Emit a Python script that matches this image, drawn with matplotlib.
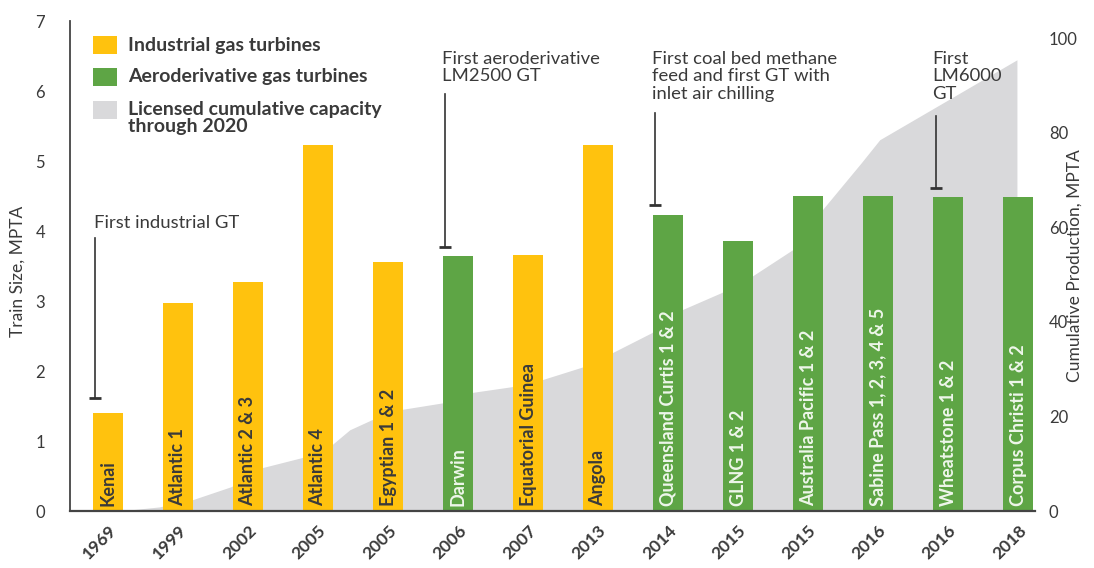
import matplotlib
matplotlib.use("Agg")
import matplotlib.pyplot as plt
from matplotlib.patches import Rectangle

plt.rcParams["font.family"] = ["Lato", "DejaVu Sans"]

# data
years = ["1969", "1999", "2002", "2005", "2005", "2006", "2007", "2013",
         "2014", "2015", "2015", "2016", "2016", "2018"]
projects = ["Kenai", "Atlantic 1", "Atlantic 2 & 3", "Atlantic 4", "Egyptian 1 & 2",
            "Darwin", "Equatorial Guinea", "Angola", "Queensland Curtis 1 & 2",
            "GLNG 1 & 2", "Australia Pacific 1 & 2", "Sabine Pass 1, 2, 3, 4 & 5",
            "Wheatstone 1 & 2", "Corpus Christi 1 & 2"]
train_size = [1.40, 2.97, 3.27, 5.23, 3.56, 3.64, 3.66, 5.23, 4.23, 3.86,
              4.50, 4.50, 4.49, 4.49]
turbine = ["ind", "ind", "ind", "ind", "ind", "aero", "ind", "ind", "aero",
           "aero", "aero", "aero", "aero", "aero"]

# licensed cumulative capacity outline (x in bar-index units, MTPA)
cum_x = [0.21, 0.74, 1.21, 1.77, 2.21, 2.77, 3.21, 3.46, 3.77, 4.2, 4.79,
         5.21, 5.77, 6.21, 6.79, 7.21, 7.77, 8.21, 8.77, 9.2, 9.79, 10.21,
         10.77, 11.03, 12.99, 12.99]
cum_val = [0, 0.8, 2.3, 5.1, 9.1, 11.2, 14.0, 17.1, 19.2, 21.4, 22.8, 25.0,
           26.2, 27.7, 30.4, 33.4, 37.6, 42.5, 46.1, 49.5, 55.2, 63.6, 73.6,
           78.4, 95.3, 0]

# callouts: bar index, line top, line bottom, text
notes = [
    (0, 3.90, 1.61, "First industrial GT"),
    (5, 5.96, 3.77, "First aeroderivative\nLM2500 GT"),
    (8, 5.69, 4.37, "First coal bed methane\nfeed and first GT with\ninlet air chilling"),
    (12, 5.64, 4.61, "First\nLM6000\nGT"),
]

YELLOW = "#FFC20E"
GREEN = "#5EA545"
GREY = "#D9D9DB"
TXT = "#3a3a3a"

fig = plt.figure(figsize=(10.94, 5.68), dpi=100)
ax = fig.add_axes([0.064, 0.100, 0.882, 0.863])
ax2 = ax.twinx()
ax.set_zorder(ax2.get_zorder() + 1)
ax.patch.set_visible(False)

xs = list(range(len(years)))
ax2.fill(cum_x, cum_val, color=GREY, lw=0)
ax2.set_ylim(0, 103.6)
ax2.set_yticks([0, 20, 40, 60, 80, 100])
ax2.tick_params(axis="y", length=0, pad=10, labelsize=12, labelcolor=TXT)
ax2.set_ylabel("Cumulative Production, MPTA", fontsize=12.5, color=TXT)
ax2.yaxis.set_label_coords(1.033, 0.5)

colors = [YELLOW if t == "ind" else GREEN for t in turbine]
ax.bar(xs, train_size, width=0.43, color=colors, zorder=2)
for x, name, t in zip(xs, projects, turbine):
    ax.text(x, 0.07, name, rotation=90, ha="center", va="bottom",
            fontsize=13, fontweight="bold",
            color=TXT if t == "ind" else "#eef6ea", zorder=3)

for idx, top, bot, label in notes:
    lx = idx - 0.18
    ax.plot([lx, lx], [bot, top], color="#333333", lw=1.2, zorder=3)
    ax.plot([lx], [bot], marker="_", ms=8, mew=2, color="#333333", zorder=3)
    if idx == 0:
        ax.text(lx - 0.02, top + 0.1, label, ha="left", va="bottom",
                fontsize=13.3, color=TXT, linespacing=1.1)
    else:
        ax.text(lx - 0.05, 6.57, label, ha="left", va="top",
                fontsize=13.3, color=TXT, linespacing=1.1)

ax.set_xlim(-0.543, 13.24)
ax.set_ylim(0, 7)
ax.set_yticks(range(8))
ax.tick_params(axis="y", length=0, pad=18, labelsize=12, labelcolor=TXT)
ax.set_ylabel("Train Size, MPTA", fontsize=12.5, color=TXT)
ax.yaxis.set_label_coords(-0.046, 0.49)
ax.set_xticks(xs)
ax.set_xticklabels(years, rotation=45, ha="right", rotation_mode="anchor",
                   fontsize=12.5, fontweight="bold", color=TXT)
ax.tick_params(axis="x", length=0, pad=8)

for a in (ax, ax2):
    a.spines["top"].set_visible(False)
    a.spines["right"].set_visible(False)
ax2.spines["left"].set_visible(False)
ax2.spines["bottom"].set_visible(False)
ax.spines["left"].set_color("#444444")
ax.spines["bottom"].set_color("#444444")
ax.spines["left"].set_linewidth(1.3)
ax.spines["bottom"].set_linewidth(1.6)

# legend drawn by hand
legend_items = [(YELLOW, "Industrial gas turbines"),
                (GREEN, "Aeroderivative gas turbines"),
                (GREY, "Licensed cumulative capacity\nthrough 2020")]
ly = [0.951, 0.886, 0.818]
for (c, label), y in zip(legend_items, ly):
    ax.add_patch(Rectangle((0.0238, y - 0.0185), 0.0249, 0.037, transform=ax.transAxes,
                           color=c, lw=0, zorder=4, clip_on=False))
    if "\n" in label:
        ax.text(0.060, y + 0.019, label, transform=ax.transAxes, ha="left",
                va="top", fontsize=14, fontweight="bold", color=TXT, linespacing=1.0)
    else:
        ax.text(0.060, y, label, transform=ax.transAxes, ha="left",
                va="center", fontsize=14, fontweight="bold", color=TXT)

fig.savefig("out.png", dpi=100)
